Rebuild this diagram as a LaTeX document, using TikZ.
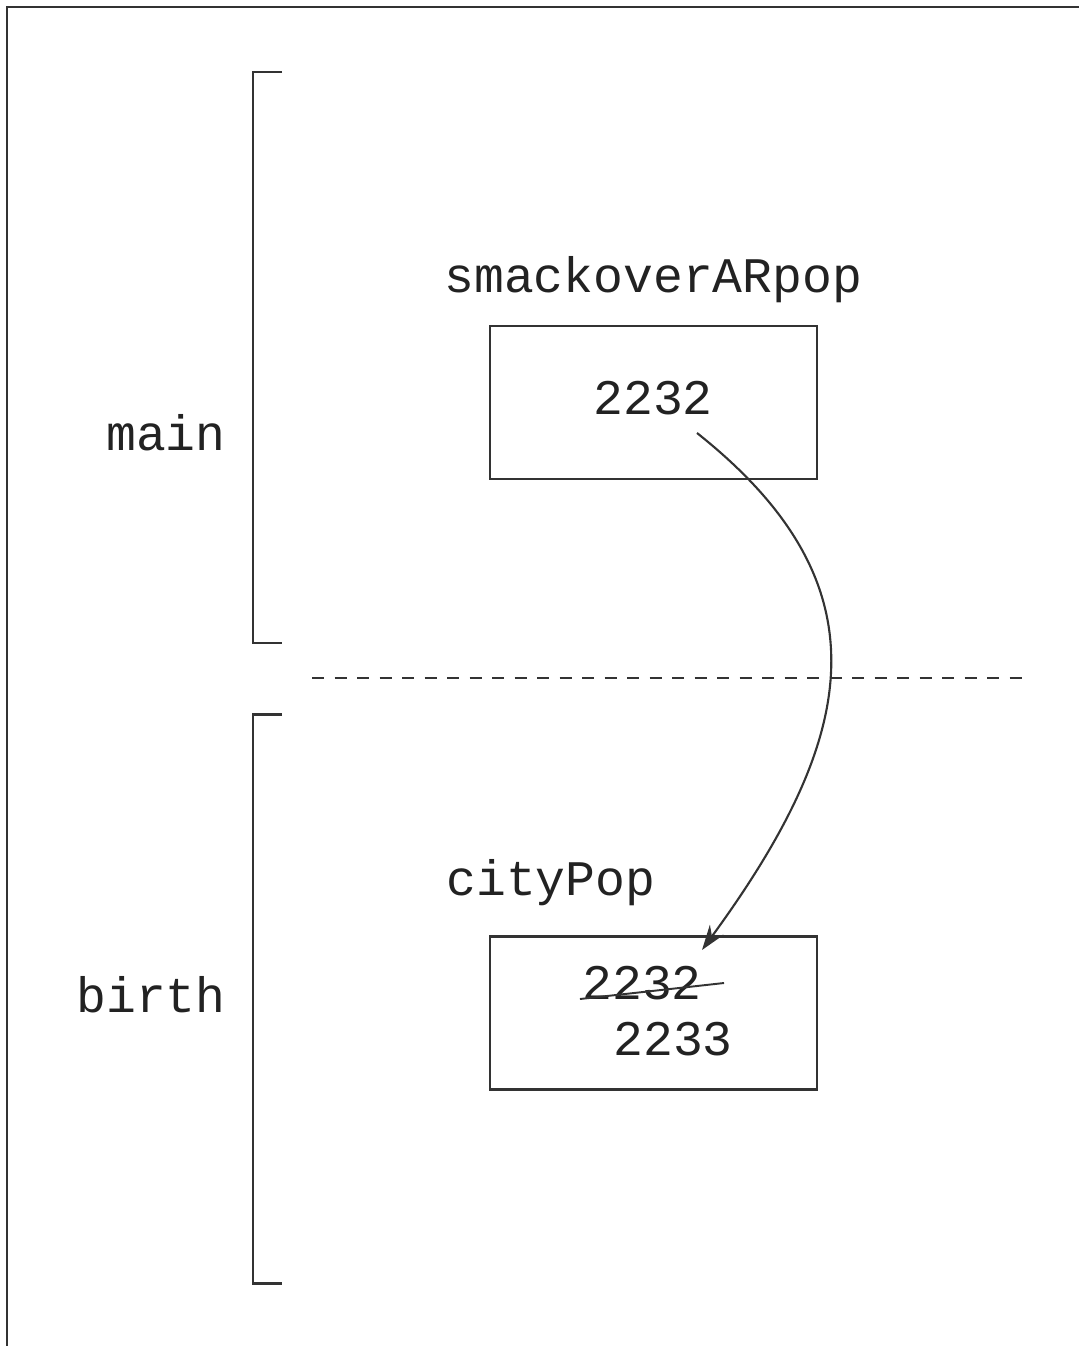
\documentclass[tikz,border=0pt]{standalone}
\usepackage{fontspec}
\usepackage{xcolor}
\usetikzlibrary{positioning, arrows.meta, calc}
\newfontfamily\codefont{Liberation Mono}
\definecolor{stackline}{HTML}{333333}
\definecolor{stacktext}{HTML}{222222}

\begin{document}
\begin{tikzpicture}[x=0.2mm, y=-0.2mm,
    lbl/.style={font=\codefont\fontsize{28.3}{30}\selectfont, text=stacktext, inner sep=0pt},
    cell/.style={draw=stackline, line width=1.5pt, minimum width=65.4mm, minimum height=30.6mm, inner sep=0pt},
    brace/.style={stackline, line width=1.7pt},
    flow/.style={stackline, line width=1.2pt, -{Stealth[length=5mm, width=3.4mm]}}]
        \useasboundingbox (0,0) rectangle (1079,1346);
        % page frame
        \draw[stackline, line width=1.6pt] (7,1346) -- (7,7) -- (1079,7);
        % frame brackets
        \draw[brace] (282,72) -- (253,72) -- (253,643) -- (282,643);
        \draw[brace] (282,714) -- (253,714) -- (253,1283) -- (282,1283);
        \node[lbl, anchor=base east] (mainlbl) at (226,450) {main};
        \node[lbl, anchor=base east] (birthlbl) at (226,1012) {birth};
        % boundary between frames
        \draw[stackline, line width=1.5pt, dash pattern=on 2.4mm off 2.1mm] (312,678) -- (1027,678);
        % variables
        \node[lbl, anchor=base west] (smackname) at (444,293) {smackoverARpop};
        \node[cell] (smackbox) at (653.5,402.5) {};
        \node[lbl, anchor=base] (smackval) at (653,414) {2232};
        \node[lbl, anchor=base west] (cityname) at (446,895) {cityPop};
        \node[cell] (citybox) at (653.5,1013) {};
        \node[lbl, anchor=base] (oldval) at (642,999) {2232};
        \node[lbl, anchor=base] (newval) at (673,1055) {2233};
        \draw[stackline, line width=1.1pt] ([shift={(-2,0)}]oldval.base west) -- ([shift={(22,-16)}]oldval.base east);
        % pass by value
        \coordinate (src) at (697,433);
        \coordinate (dst) at (702,950);
        \draw[flow] (src) .. controls (891,587) and (856,739) .. (dst);
      \end{tikzpicture}
\end{document}
